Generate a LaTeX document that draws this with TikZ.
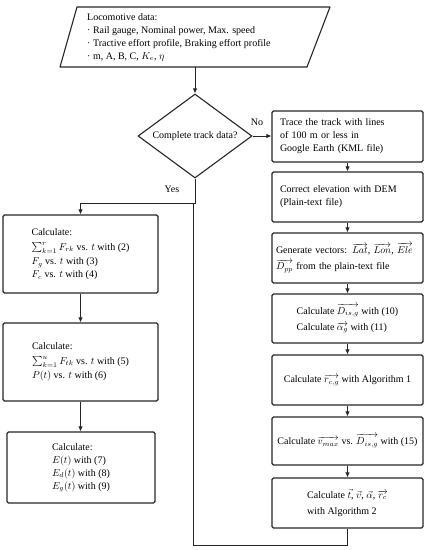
\documentclass[tikz,border=0pt]{standalone}
\usepackage{amsmath}
\usepackage{fontspec}
\setmainfont{Liberation Serif}
\usetikzlibrary{shapes.geometric,arrows.meta}
\tikzset{
  box/.style={draw=black!85, line width=1.1pt, rounded corners=1.5pt, minimum width=151pt, inner sep=0pt, align=left},
  arr/.style={-{Latex[length=5pt,width=4.5pt]}, line width=0.9pt, draw=black!85},
  ln/.style={line width=0.9pt, draw=black!85},
  lbl/.style={inner sep=0pt}
}
\begin{document}
\begin{tikzpicture}[x=1pt,y=-1pt, font=\fontsize{10}{13}\selectfont]
\useasboundingbox (0,0) rectangle (428,550);

% input parallelogram
\draw[line width=1.1pt, line join=round, draw=black!85] (77,7) -- (330,7) -- (307,67) -- (60,67) -- cycle;
\node[anchor=west, align=left, inner sep=0pt, minimum height=60pt] (data) at (87,37)
  {Locomotive data:\\
   · Rail gauge, Nominal power, Max. speed\\
   · Tractive effort profile, Braking effort profile\\
   · m, A, B, C, $K_e$, $\eta$};

% decision
\node[diamond, draw=black!85, line width=1.1pt, minimum width=114pt, minimum height=84pt, inner sep=1pt, aspect=1.36] (dec) at (195,136) {Complete track data?};

% right column
\node[box, text width=135pt, minimum height=51pt] (r1) at (347.5,136.5)
  {Trace the track with lines\\of 100 m or less in\\Google Earth (KML file)};
\node[box, text width=135pt, minimum height=50pt] (r2) at (347.5,197)
  {Correct elevation with DEM\\(Plain-text file)};
\node[box, text width=143pt, minimum height=50pt] (r3) at (347.5,258)
  {Generate vectors: $\overrightarrow{Lat}$, $\overrightarrow{Lon}$, $\overrightarrow{Ele}$\\[3pt]
   $\overrightarrow{D_{pp}}$ from the plain-text file};
\node[box, minimum height=49pt] (r4) at (347.5,318.5)
  {Calculate $\overrightarrow{D_{is,g}}$ with (10)\\[3pt]
   Calculate $\overrightarrow{\alpha_g}$ with (11)};
\node[box, minimum height=50pt] (r5) at (347.5,380)
  {Calculate $\overrightarrow{r_{c,g}}$ with Algorithm 1};
\node[box, minimum height=48pt] (r6) at (347.5,441)
  {Calculate $\overrightarrow{v_{max}}$ vs. $\overrightarrow{D_{is,g}}$ with (15)};
\node[box, minimum height=50pt] (r7) at (347.5,503)
  {Calculate $\vec{t}$, $\vec{v}$, $\vec{\alpha}$, $\overrightarrow{r_c}$\\[3pt]
   with Algorithm 2};

% left column
\node[box, minimum width=155pt, minimum height=78pt] (l1) at (80.5,254)
  {Calculate:\\[2pt]
   $\sum_{k=1}^{r} F_{rk}$ vs. $t$ with (2)\\[1.5pt]
   $F_g$ vs. $t$ with (3)\\
   $F_c$ vs. $t$ with (4)};
\node[box, minimum width=155pt, minimum height=78pt] (l2) at (80.5,362)
  {Calculate:\\[2pt]
   $\sum_{k=1}^{u} F_{tk}$ vs. $t$ with (5)\\[1.5pt]
   $P(t)$ vs. $t$ with (6)};
\node[box, minimum width=148pt, minimum height=71pt] (l3) at (81,467.5)
  {Calculate:\\
   $E(t)$ with (7)\\
   $E_d(t)$ with (8)\\
   $E_g(t)$ with (9)};

% labels
\node[lbl] (no) at (257,122) {No};
\node[lbl] (yes) at (172,189) {Yes};

% connectors
\draw[arr] (data.south -| dec.north) -- (dec.north);
\draw[arr] (dec.east) -- (dec.east -| r1.west);
\draw[arr] (r1) -- (r2);
\draw[arr] (r2) -- (r3);
\draw[arr] (r3) -- (r4);
\draw[arr] (r4) -- (r5);
\draw[arr] (r5) -- (r6);
\draw[arr] (r6) -- (r7);
\coordinate (j) at (195,203);
\draw[arr] (dec.south) -- (j) -| (l1.north);
\draw[arr] (l1) -- (l2);
\draw[arr] (l2.south) -- (l2.south |- l3.north);
\coordinate (lb) at (193,545);
\coordinate (lt) at (193,203);
\draw[ln] (r7.south) -- (r7.south |- lb) -- (lb) -- (lt);
\end{tikzpicture}
\end{document}
